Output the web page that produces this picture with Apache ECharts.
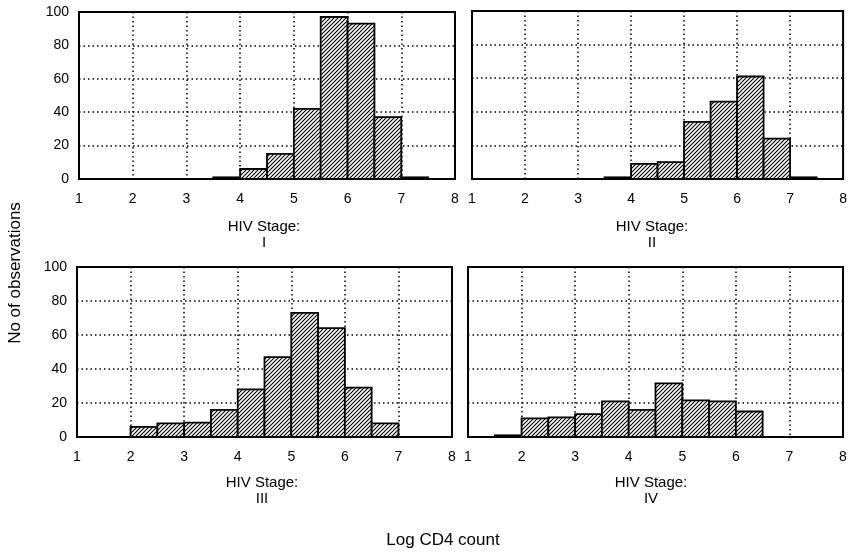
<!DOCTYPE html>
<html>
<head>
<meta charset="utf-8">
<script src="https://cdn.jsdelivr.net/npm/echarts@6/dist/echarts.min.js"></script>
<style>
html,body{margin:0;padding:0;background:#fff;}
#chart{width:850px;height:557px;}
</style>
</head>
<body>
<div id="chart"></div>
<script>
// ---- Data ----
const binStarts = [1, 1.5, 2, 2.5, 3, 3.5, 4, 4.5, 5, 5.5, 6, 6.5, 7, 7.5];
const binWidth = 0.5;
const stageI   = [0, 0, 0, 0, 0, 1, 6, 15, 42, 97, 93, 37, 1, 0];
const stageII  = [0, 0, 0, 0, 0, 1, 9, 10, 34, 46, 61, 24, 1, 0];
const stageIII = [0, 0, 6, 8, 8.5, 16, 28, 47, 73, 64, 29, 8, 0, 0];
const stageIV  = [0, 1, 11, 11.5, 13.5, 21, 16, 31.5, 21.5, 21, 15, 0, 0, 0];
const stageNames = ['I', 'II', 'III', 'IV'];
const xTicks = [1, 2, 3, 4, 5, 6, 7, 8];
const yTicks = [0, 20, 40, 60, 80, 100];
const xTitle = 'Log CD4 count';
const yTitle = 'No of observations';
const stageLabel = 'HIV Stage:';

const allStages = [stageI, stageII, stageIII, stageIV];

// hatch pattern
const T = 4;
const pc = document.createElement('canvas');
pc.width = T; pc.height = T;
const pctx = pc.getContext('2d');
pctx.fillStyle = '#fff';
pctx.fillRect(0, 0, T, T);
pctx.strokeStyle = '#000';
pctx.lineWidth = 1.1;
pctx.beginPath();
pctx.moveTo(0, T); pctx.lineTo(T, 0);
pctx.moveTo(-1, 1); pctx.lineTo(1, -1);
pctx.moveTo(T - 1, T + 1); pctx.lineTo(T + 1, T - 1);
pctx.stroke();

const FONT = '"Liberation Sans", Arial, sans-serif';

const grids = [
  {left: 79, top: 12, width: 376, height: 167},
  {left: 472, top: 11, width: 372, height: 168},
  {left: 77, top: 267, width: 375, height: 170},
  {left: 468, top: 267, width: 375, height: 170}
];
const labelPos = [[264, 219], [652, 219], [262, 475], [651, 475]];

const option = {
  animation: false,
  backgroundColor: '#fff',
  grid: grids.map(g => Object.assign({show: true, borderColor: '#000', borderWidth: 2, backgroundColor: 'transparent'}, g)),
  xAxis: grids.map((g, i) => ({
    type: 'value', gridIndex: i,
    min: xTicks[0], max: xTicks[xTicks.length - 1], interval: 1,
    axisLine: {show: false}, axisTick: {show: false},
    axisLabel: {color: '#000', fontSize: 14, fontFamily: FONT, margin: 13, showMinLabel: true, showMaxLabel: true},
    splitLine: {show: true, lineStyle: {color: '#000', type: [1.5, 3], width: 1.5}}
  })),
  yAxis: grids.map((g, i) => ({
    type: 'value', gridIndex: i,
    min: yTicks[0], max: yTicks[yTicks.length - 1], interval: 20,
    axisLine: {show: false}, axisTick: {show: false},
    axisLabel: {show: i % 2 === 0, color: '#000', fontSize: 14, fontFamily: FONT, margin: 10},
    splitLine: {show: true, lineStyle: {color: '#000', type: [1.5, 3], width: 1.5}}
  })),
  series: allStages.map((counts, i) => ({
    type: 'custom',
    xAxisIndex: i, yAxisIndex: i,
    data: binStarts.map((s, k) => [s, s + binWidth, counts[k]]).filter(d => d[2] > 0),
    encode: {x: [0, 1], y: 2},
    renderItem: function (params, api) {
      const p0 = api.coord([api.value(0), api.value(2)]);
      const p1 = api.coord([api.value(1), 0]);
      return {
        type: 'rect',
        shape: {x: p0[0], y: p0[1], width: p1[0] - p0[0], height: p1[1] - p0[1]},
        style: {fill: {image: pc, repeat: 'repeat'}, stroke: '#000', lineWidth: 1.8}
      };
    },
    z: 5
  })),
  graphic: labelPos.map((p, i) => ({
    type: 'text', x: p[0], y: p[1],
    style: {text: stageLabel + '\n' + stageNames[i], font: '15px ' + FONT, fill: '#000', align: 'center', verticalAlign: 'top', lineHeight: 16}
  })).concat([
    {type: 'text', x: 443, y: 540, style: {text: xTitle, font: '17px ' + FONT, fill: '#000', align: 'center', verticalAlign: 'middle'}},
    {type: 'text', x: 15, y: 273, rotation: Math.PI / 2, style: {text: yTitle, font: '17px ' + FONT, fill: '#000', align: 'center', verticalAlign: 'middle'}}
  ])
};

const chart = echarts.init(document.getElementById('chart'), null, {renderer: 'canvas'});
chart.setOption(option);
</script>
</body>
</html>
